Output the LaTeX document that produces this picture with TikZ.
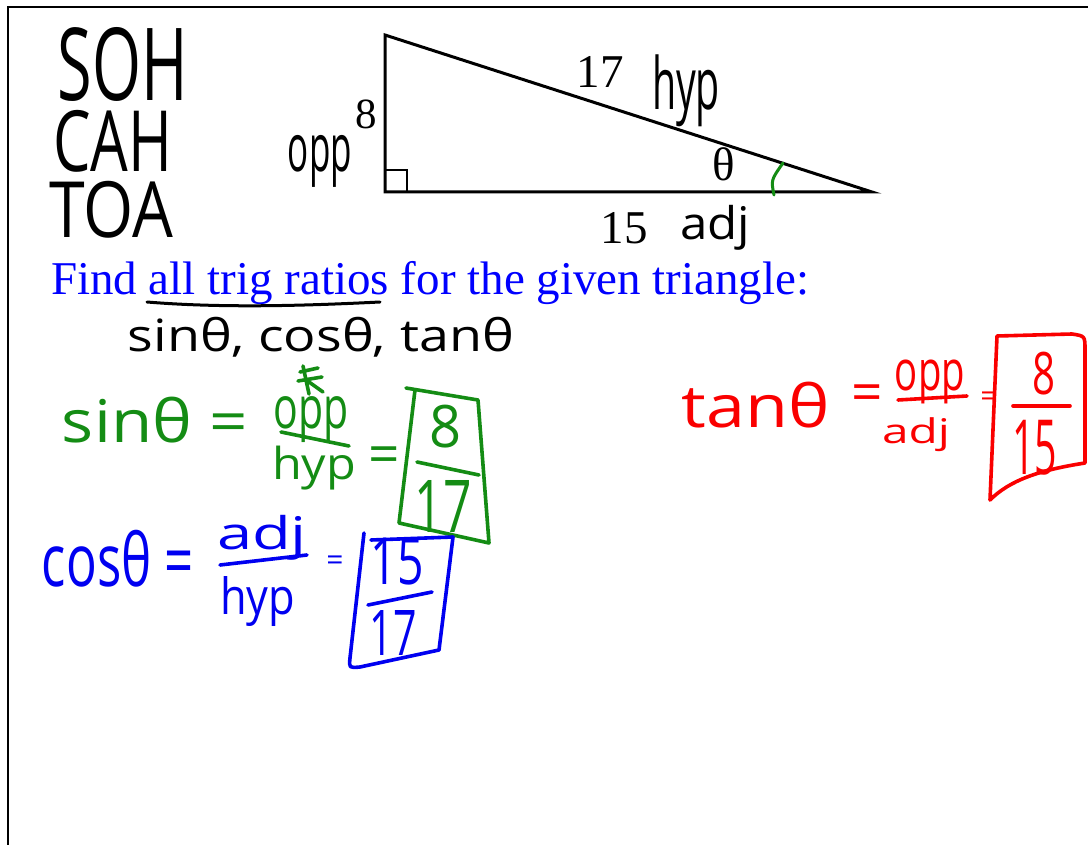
\documentclass[tikz,border=0pt]{standalone}
\usepackage{fontspec}
\usepackage{graphicx}
\setmainfont{Liberation Serif}
\newfontfamily\hand{Open Sans}
\definecolor{pgreen}{RGB}{20,140,20}
\definecolor{pblue}{RGB}{0,0,240}
\definecolor{pred}{RGB}{250,0,0}
\newcommand\hwnode[7]{\node[hw,text=#6] (#1) at ({(#2+#3)/2},{(#4+#5)/2}) {\resizebox*{\dimexpr #3pt-#2pt\relax}{\dimexpr #5pt-#4pt\relax}{#7}};}
\begin{document}
\begin{tikzpicture}[x=1pt,y=-1pt,
  hw/.style={inner sep=0pt,outer sep=0pt,font=\hand},
  typed/.style={inner sep=0pt,outer sep=0pt,font=\fontsize{47}{50}\selectfont},
  pen/.style={line width=3.6pt,line cap=round,line join=round},
  eqsign/.style={inner sep=0pt,outer sep=0pt,anchor=base}]
\useasboundingbox (0,0) rectangle (1088,845);
\fill[white] (0,0) rectangle (1088,845);
% frame
\draw[line width=2pt] (8,845) -- (8,7) -- (1088,7);
% triangle
\coordinate (A) at (385,35);
\coordinate (B) at (385,192);
\coordinate (C) at (872,192);
\draw[line width=3pt] (A) -- (B) -- (C) -- cycle;
\draw[line width=2.5pt] (385,170) -- (407,170) -- (407,192);
\draw[pgreen,line width=3pt,line cap=round] (774,195) .. controls (771,180) .. (783,163);
% typed labels
\node[typed,font=\fontsize{43}{46}\selectfont] (n8) at (366,114) {8};
\node[typed] (n17) at (600,72) {17};
\node[typed] (th) at (724,164) {θ};
\node[typed] (n15) at (624,228) {15};
\node[typed,text=blue,anchor=base west] (task) at (51,295) {Find all trig ratios for the given triangle:};
% black handwriting
\node[hw,anchor=north west] (mnem) at (49,27) {\vbox{\offinterlineskip
  \hbox{\hspace*{9pt}\resizebox*{130pt}{74pt}{SOH}}\vskip 9pt
  \hbox{\hspace*{4pt}\resizebox*{119pt}{62pt}{CAH}}\vskip 9pt
  \hbox{\resizebox*{124pt}{57pt}{TOA}}}};
\hwnode{oppb}{288}{352}{135}{187}{black}{opp}
\hwnode{hypb}{652}{720}{55}{127}{black}{hyp}
\hwnode{adjb}{680}{750}{205}{250}{black}{adj}
\hwnode{list}{128}{514}{317}{357}{black}{sinθ, cosθ, tanθ}
\draw[pen,line width=3pt] (147,302) .. controls (220,308) and (300,306) .. (380,302);
% green
\hwnode{sinl}{62}{248}{397}{443}{pgreen}{sinθ =}
\hwnode{oppg}{274}{349}{397}{443}{pgreen}{opp}
\hwnode{hypg}{272}{356}{446}{490}{pgreen}{hyp}
\draw[pen,pgreen] (281,432) -- (349,446);
\draw[pen,pgreen] (303,366) -- (309,394) (298,381) -- (322,377) (300,372) -- (318,368) (309,382) -- (323,392);
\node[eqsign,text=pgreen,font=\hand\fontsize{55}{55}\selectfont] (eqg) at (384,473) {=};
\hwnode{g8}{430}{462}{405}{448}{pgreen}{8}
\hwnode{g17}{415}{472}{480}{532}{pgreen}{17}
\draw[pen,pgreen] (417,462) -- (479,475);
\draw[pen,pgreen] (406,388) -- (478,400) -- (489,543) -- (399,523) -- (415,390);
% blue
\hwnode{cosl}{42}{194}{530}{587}{pblue}{cosθ =}
\hwnode{adjbl}{217}{307}{515}{560}{pblue}{adj}
\hwnode{hypbl}{220}{295}{577}{627}{pblue}{hyp}
\draw[pen,pblue] (220,565) -- (307,555);
\node[eqsign,text=pblue,font=\hand\fontsize{30}{30}\selectfont] (eqb) at (335,570) {=};
\hwnode{b15}{371}{424}{538}{585}{pblue}{15}
\hwnode{b17}{370}{417}{610}{655}{pblue}{17}
\draw[pen,pblue] (368,605) -- (432,592);
\draw[pen,pblue] (364,533) -- (350,658) .. controls (349,668) .. (360,667) -- (439,650) -- (453,537) -- (371,540);
% red
\hwnode{tanl}{682}{830}{382}{428}{pred}{tanθ}
\node[eqsign,text=pred,font=\hand\fontsize{55}{55}\selectfont] (eqr1) at (867,411) {=};
\hwnode{oppr}{895}{965}{360}{404}{pred}{opp}
\hwnode{adjr}{882}{950}{418}{452}{pred}{adj}
\draw[pen,pred] (898,400) -- (967,396);
\node[eqsign,text=pred,font=\hand\fontsize{30}{30}\selectfont] (eqr2) at (989,406) {=};
\hwnode{r8}{1032}{1055}{352}{395}{pred}{8}
\hwnode{r15}{1012}{1057}{420}{475}{pred}{15}
\draw[pen,pred] (1013,406) -- (1070,406);
\draw[pen,pred] (997,336) -- (990,500) .. controls (1010,480) and (1040,470) .. (1085,463) -- (1085,350) .. controls (1085,336) .. (1072,334) -- (997,336);
\end{tikzpicture}
\end{document}
